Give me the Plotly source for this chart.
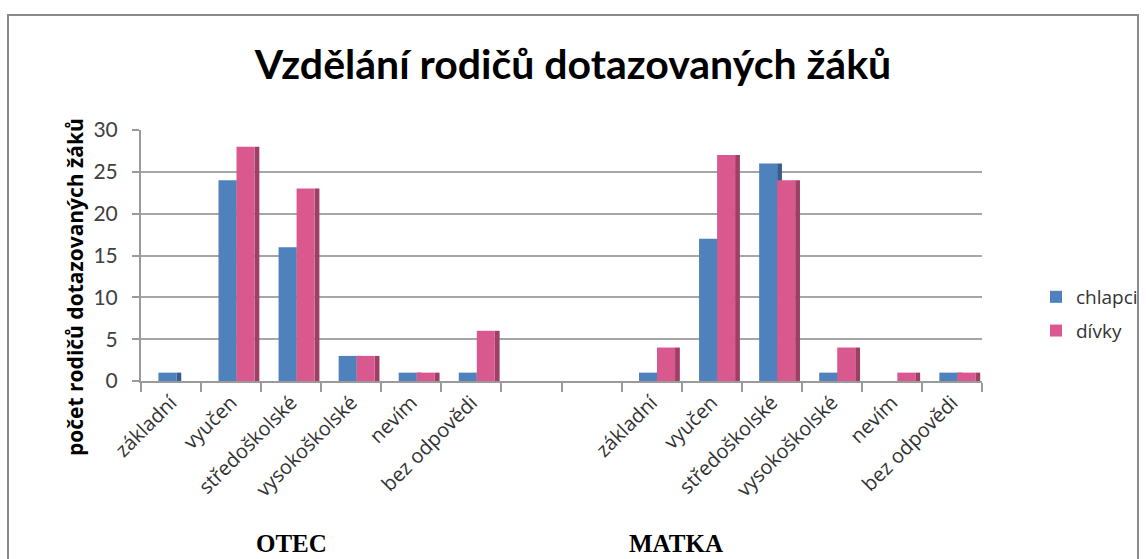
import plotly.graph_objects as go

categories = ["základní", "vyučen", "středoškolské", "vysokoškolské", "nevím", "bez odpovědi"]
groups = ["OTEC", "MATKA"]
chlapci_otec = [1, 24, 16, 3, 1, 1]
divky_otec = [0, 28, 23, 3, 1, 6]
chlapci_matka = [1, 17, 26, 1, 0, 1]
divky_matka = [4, 27, 24, 4, 1, 1]
y_ticks = [0, 5, 10, 15, 20, 25, 30]

BLUE = "#4F81BD"
BLUE_SIDE = "#385D8A"
PINK = "#D9598E"
PINK_SIDE = "#9E3F66"

gap = 2
x_otec = list(range(len(categories)))
x_matka = [len(categories) + gap + i for i in range(len(categories))]
xs = x_otec + x_matka
labels = categories + categories
chl = chlapci_otec + chlapci_matka
dv = divky_otec + divky_matka

W, H = 1146, 559
L, R, T, B = 141, 164, 130, 178
pw = W - L - R
ph = H - T - B

fig = go.Figure()
front_w = 0.30
side_w = 0.08
fig.add_trace(go.Bar(x=xs, y=chl, width=side_w, offset=0.09, marker=dict(color=BLUE_SIDE, line=dict(width=0)),
                     showlegend=False, hoverinfo="skip", legendgroup="c"))
fig.add_trace(go.Bar(x=xs, y=chl, name="chlapci", width=front_w, offset=-0.21, legendgroup="c",
                     marker=dict(color=BLUE, line=dict(width=0))))
fig.add_trace(go.Bar(x=xs, y=dv, width=side_w, offset=0.39, marker=dict(color=PINK_SIDE, line=dict(width=0)),
                     showlegend=False, hoverinfo="skip", legendgroup="d"))
fig.add_trace(go.Bar(x=xs, y=dv, name="dívky", width=front_w, offset=0.09, legendgroup="d",
                     marker=dict(color=PINK, line=dict(width=0))))

n_slots = len(xs) + gap
fig.update_layout(
    width=W, height=H,
    margin=dict(l=L, r=R, t=T, b=B, autoexpand=False),
    barmode="overlay",
    paper_bgcolor="white", plot_bgcolor="white",
    title=dict(text="<b>Vzdělání rodičů dotazovaných žáků</b>", x=0.5, xanchor="center",
               y=1 - 65 / H, yanchor="middle",
               font=dict(family="Lato, Open Sans, sans-serif", size=41, color="black")),
    legend=dict(x=(1036 - L) / pw, y=(H - B - 314) / ph, xanchor="left", yanchor="middle",
                font=dict(family="Open Sans, sans-serif", size=19, color="#333333"),
                bgcolor="rgba(0,0,0,0)", itemwidth=30, tracegroupgap=6, traceorder="grouped"),
    font=dict(family="Lato, sans-serif"),
)
fig.update_xaxes(
    range=[-0.5, n_slots - 0.5],
    tickvals=xs, ticktext=labels, tickangle=-45,
    tickfont=dict(family="Open Sans, sans-serif", size=20, color="#333333"),
    ticks="", showgrid=False, zeroline=False,
    showline=True, linecolor="#9a9a9a", linewidth=2,
    minor=dict(tick0=0.5, dtick=1, ticks="outside", ticklen=9, tickcolor="#9a9a9a", tickwidth=2, showgrid=False),
)
fig.update_yaxes(
    range=[0, 30], tickvals=y_ticks,
    tickfont=dict(family="Lato, sans-serif", size=21, color="#404040"),
    ticks="outside", ticklen=7, tickcolor="#9a9a9a", tickwidth=2, ticklabelstandoff=10,
    showline=True, linecolor="#9a9a9a", linewidth=2,
    showgrid=True, gridcolor="#a6a6a6", gridwidth=2, zeroline=False,
)

fig.add_annotation(text="<b>počet rodičů dotazovaných žáků</b>", xref="paper", yref="paper",
                   x=(75 - L) / pw, y=(H - B - 287) / ph, xanchor="center", yanchor="middle",
                   textangle=-90, showarrow=False,
                   font=dict(family="Open Sans, sans-serif", size=21, color="black"))

for g, cx in zip(groups, [291, 676]):
    fig.add_annotation(text="<b>" + g + "</b>", xref="paper", yref="paper",
                       x=(cx - L) / pw, y=(H - B - 559) / ph, xanchor="center", yanchor="bottom",
                       showarrow=False, font=dict(family="Liberation Serif, serif", size=25, color="black"))

fig.add_shape(type="rect", xref="paper", yref="paper",
              x0=(8 - L) / pw, x1=(1138 - L) / pw, y0=(H - B - 575) / ph, y1=(H - B - 15) / ph,
              line=dict(color="#8a8a8a", width=2), fillcolor="rgba(0,0,0,0)", layer="below")

fig.write_html("out.html", config={"displayModeBar": False},
               post_script="document.body.style.margin='0';document.body.style.overflow='hidden';")
